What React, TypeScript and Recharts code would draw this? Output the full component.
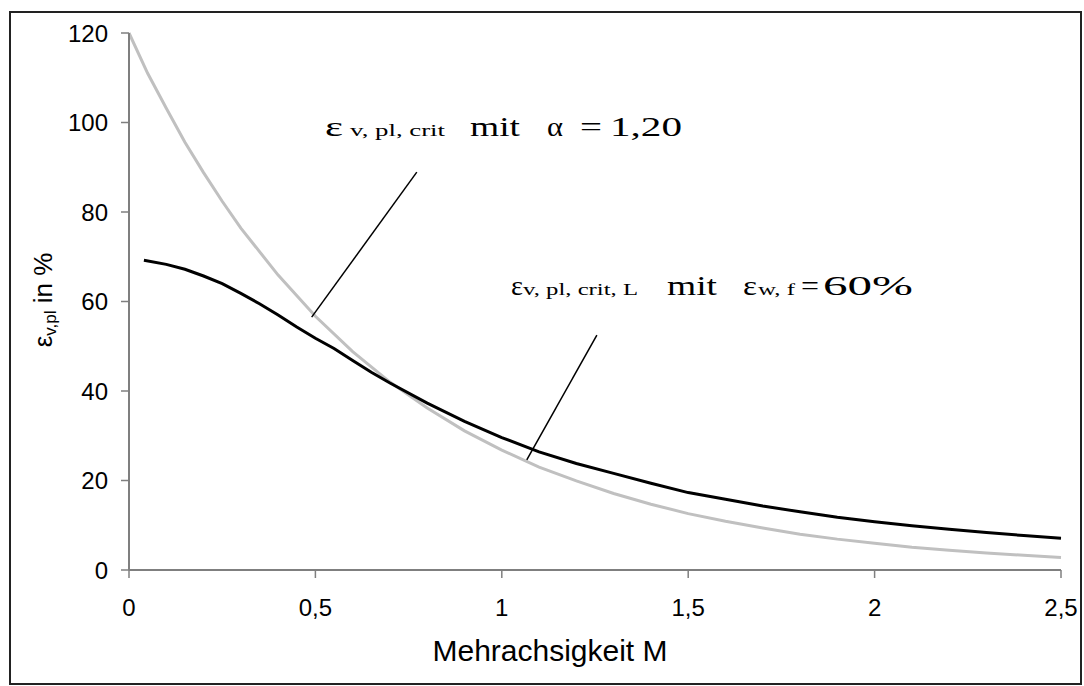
import { LineChart, Line, XAxis, YAxis, ReferenceLine } from 'recharts'

// Mehrachsigkeit M
const critM = [0, 0.05, 0.1, 0.15, 0.2, 0.25, 0.3, 0.4, 0.5, 0.6, 0.7, 0.8, 0.9, 1.0, 1.1, 1.2, 1.3, 1.4, 1.5, 1.6, 1.7, 1.8, 1.9, 2.0, 2.1, 2.2, 2.3, 2.4, 2.5]
// eps v,pl,crit mit alpha = 1,20 (grau)
const critValues = [120, 111, 103.2, 95.6, 88.8, 82.4, 76.4, 65.9, 56.7, 48.8, 42.0, 36.2, 31.1, 26.8, 23.0, 19.9, 17.1, 14.7, 12.6, 10.9, 9.4, 8.0, 6.9, 6.0, 5.1, 4.4, 3.8, 3.3, 2.8]

const limitM = [0.04, 0.1, 0.15, 0.2, 0.25, 0.3, 0.35, 0.4, 0.45, 0.5, 0.55, 0.6, 0.65, 0.7, 0.8, 0.9, 1.0, 1.1, 1.2, 1.3, 1.4, 1.5, 1.6, 1.7, 1.8, 1.9, 2.0, 2.1, 2.2, 2.3, 2.4, 2.5]
// eps v,pl,crit,L mit eps w,f = 60% (schwarz)
const limitValues = [69.2, 68.3, 67.2, 65.7, 64.0, 61.8, 59.5, 57.0, 54.3, 51.8, 49.5, 46.8, 44.2, 41.8, 37.3, 33.2, 29.6, 26.4, 23.8, 21.6, 19.4, 17.3, 15.8, 14.3, 13.0, 11.8, 10.8, 9.9, 9.1, 8.4, 7.7, 7.1]

const xTicks = [0, 0.5, 1, 1.5, 2, 2.5]
const yTicks = [0, 20, 40, 60, 80, 100, 120]

// Hinweislinien (Datenkoordinaten)
const pointerCrit = [{ x: 0.49, y: 56.5 }, { x: 0.772, y: 88.9 }]
const pointerLimit = [{ x: 1.067, y: 24.6 }, { x: 1.255, y: 52.5 }]

const critData = critM.map((m, i) => ({ m, v: critValues[i] }))
const limitData = limitM.map((m, i) => ({ m, v: limitValues[i] }))

const AXIS = '#7f7f7f'
const SANS = '"Liberation Sans", Arial, sans-serif'
const SERIF = '"Liberation Serif", "Times New Roman", serif'

const piece = (x: number, y: number, w: number, size: number, s: string) => (
  <text
    x={x}
    y={y}
    fontSize={size}
    textLength={w}
    lengthAdjust="spacingAndGlyphs"
    fontFamily={SERIF}
    fill="#000"
  >
    {s}
  </text>
)

export default function App() {
  return (
    <div style={{ position: 'absolute', left: 0, top: 0, width: 1084, height: 686, background: '#fff' }}>
      <div
        style={{
          position: 'absolute',
          left: 9,
          top: 11,
          width: 1073,
          height: 674,
          boxSizing: 'border-box',
          border: '2px solid #222',
        }}
      />
      <div style={{ position: 'absolute', left: 0, top: 0 }}>
        <LineChart width={1084} height={686} margin={{ top: 33, right: 23, bottom: 36, left: 59 }}>
          <XAxis
            type="number"
            dataKey="m"
            domain={[0, 2.5]}
            ticks={xTicks}
            tickFormatter={(v: number) => String(v).replace('.', ',')}
            height={80}
            stroke={AXIS}
            axisLine={{ stroke: AXIS, strokeWidth: 2 }}
            tickLine={{ stroke: AXIS, strokeWidth: 1.5 }}
            tickSize={8}
            tickMargin={21}
            tick={{ fill: '#000', fontSize: 24, fontFamily: SANS }}
            allowDuplicatedCategory={false}
          />
          <YAxis
            type="number"
            domain={[0, 120]}
            ticks={yTicks}
            width={70}
            stroke={AXIS}
            axisLine={{ stroke: AXIS, strokeWidth: 2 }}
            tickLine={{ stroke: AXIS, strokeWidth: 1.5 }}
            tickSize={8}
            tickMargin={13}
            tick={{ fill: '#000', fontSize: 24, fontFamily: SANS }}
          />
          <Line
            data={critData}
            dataKey="v"
            type="linear"
            stroke="#c0c0c0"
            strokeWidth={3}
            dot={false}
            isAnimationActive={false}
          />
          <Line
            data={limitData}
            dataKey="v"
            type="linear"
            stroke="#000"
            strokeWidth={3}
            dot={false}
            isAnimationActive={false}
          />
          <ReferenceLine segment={pointerCrit} stroke="#000" strokeWidth={1.5} ifOverflow="visible" />
          <ReferenceLine segment={pointerLimit} stroke="#000" strokeWidth={1.5} ifOverflow="visible" />
        </LineChart>
      </div>
      <svg
        width={1084}
        height={686}
        style={{ position: 'absolute', left: 0, top: 0, pointerEvents: 'none' }}
      >
        {piece(325, 136, 18, 28, 'ε')}
        {piece(350, 136, 95, 16, 'v,  pl,  crit')}
        {piece(470, 136, 50, 27, 'mit')}
        {piece(547, 136, 16, 27, 'α')}
        {piece(580, 136, 22, 27, '=')}
        {piece(610, 136, 72, 27, '1,20')}

        {piece(511, 295, 12, 27, 'ε')}
        {piece(523, 295, 115, 16, 'v, pl, crit, L')}
        {piece(667, 295, 50, 27, 'mit')}
        {piece(743, 295, 14, 27, 'ε')}
        {piece(758, 295, 37, 16, 'w, f')}
        {piece(801, 295, 18, 27, '=')}
        {piece(823, 295, 90, 27, '60%')}

        <text x={550} y={661} textAnchor="middle" fontSize={30} fontFamily={SANS} fill="#000">
          Mehrachsigkeit M
        </text>
        <text
          transform="translate(52,300) rotate(-90)"
          textAnchor="middle"
          fontSize={26}
          fontFamily={SANS}
          fill="#000"
        >
          <tspan>ε</tspan>
          <tspan fontSize={17} dy={4}>v,pl</tspan>
          <tspan dy={-4}> in %</tspan>
        </text>
      </svg>
    </div>
  )
}
